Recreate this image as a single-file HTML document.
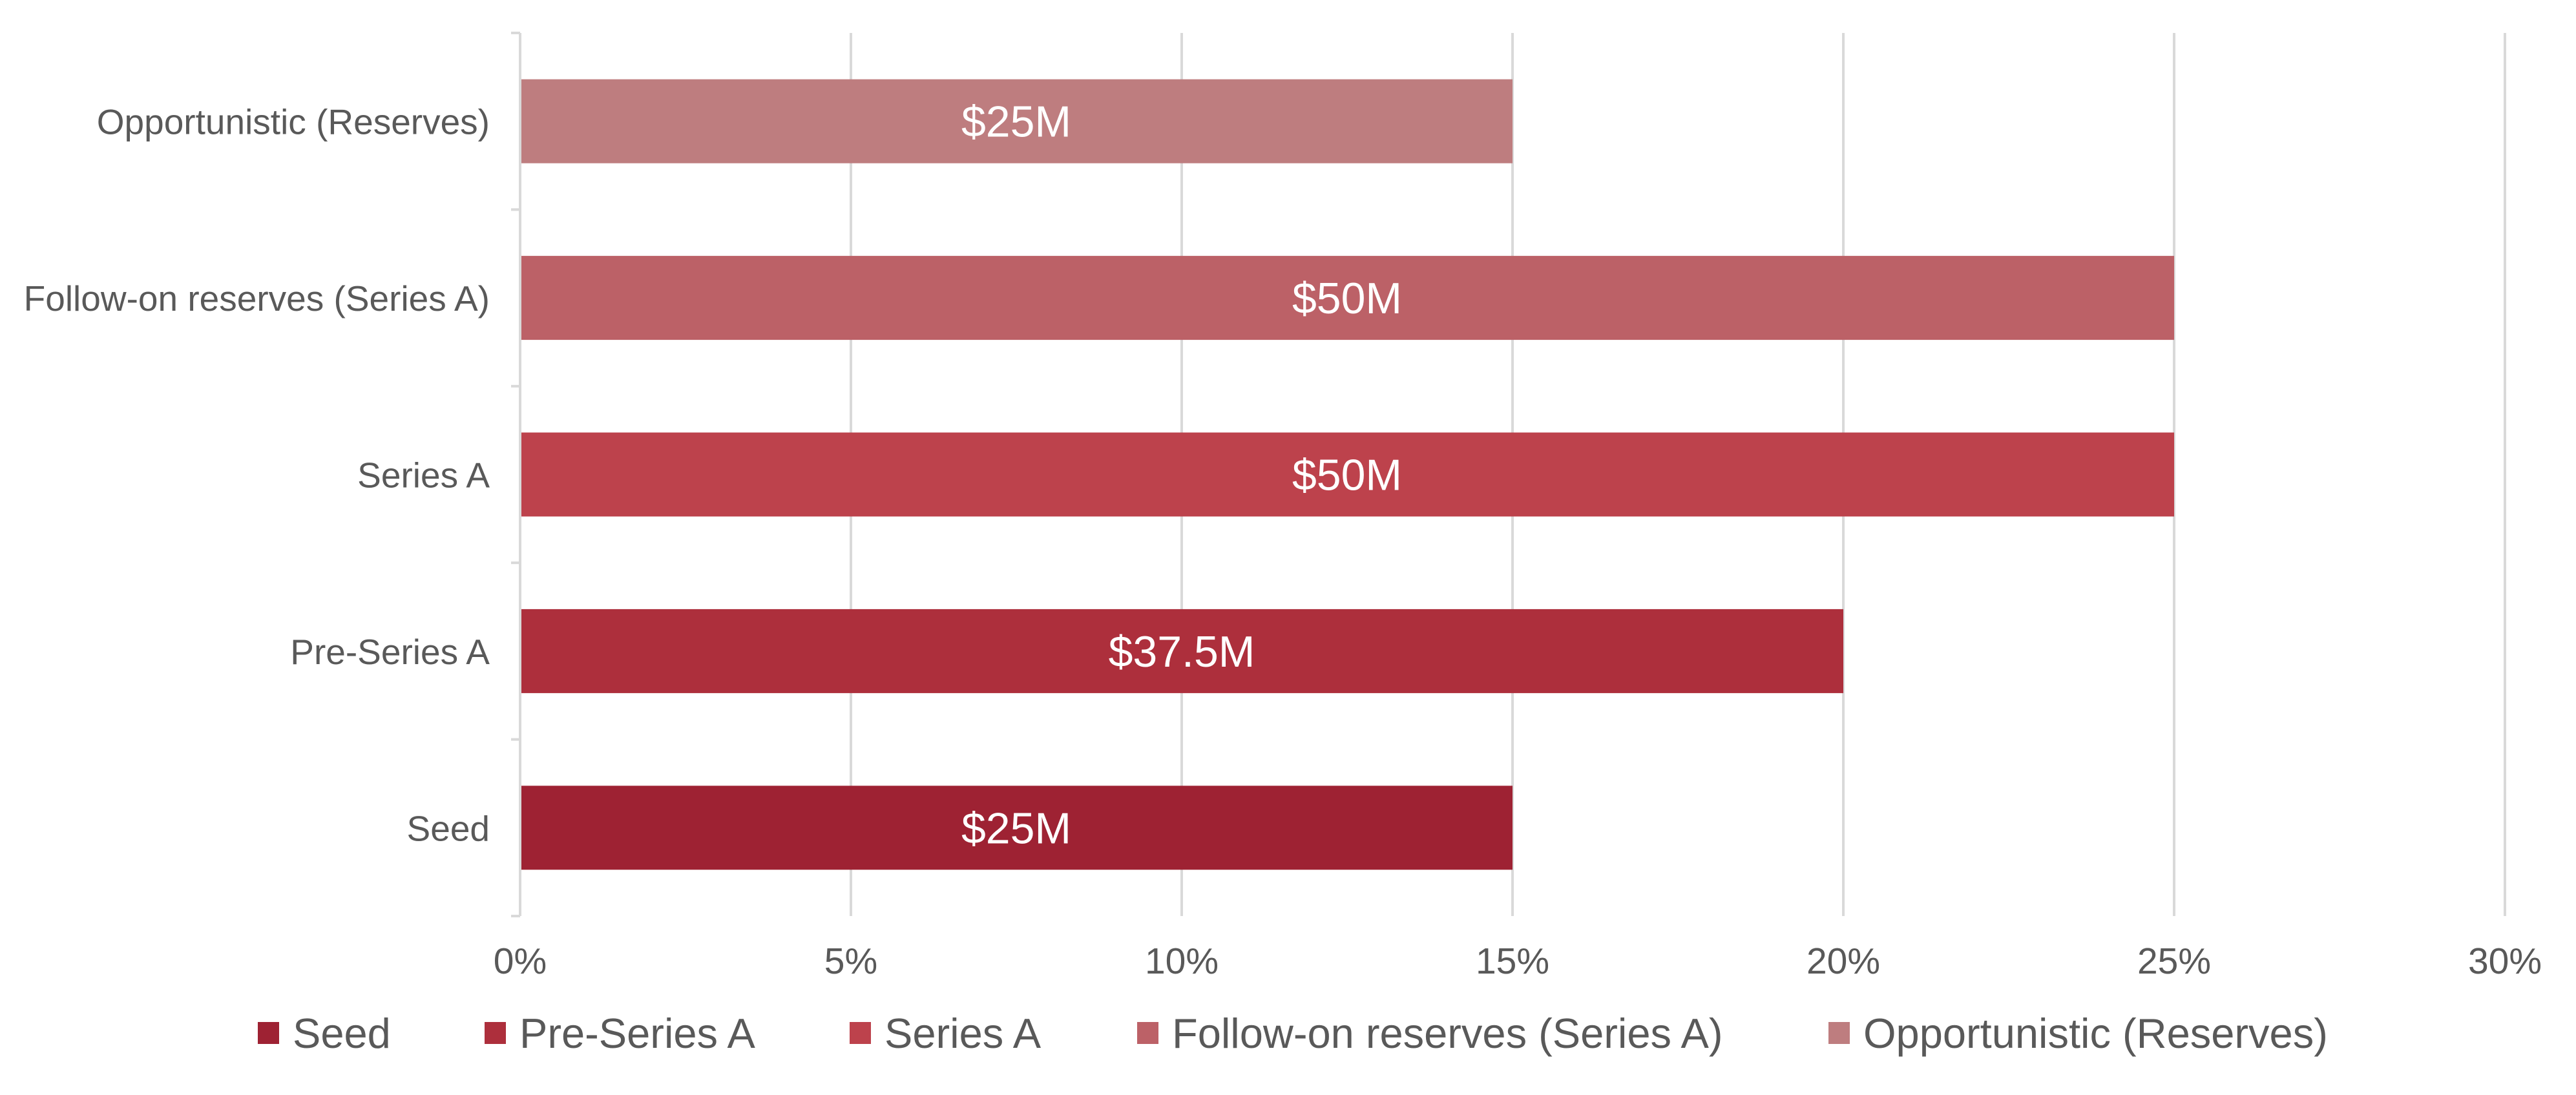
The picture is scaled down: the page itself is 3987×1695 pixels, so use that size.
<!DOCTYPE html>
<html><head><meta charset="utf-8"><style>
html,body{margin:0;padding:0;background:#fff;}
svg{display:block;}
text{font-family:"Liberation Sans",sans-serif;}
</style></head><body>
<svg id="chart" width="3987" height="1695" viewBox="0 0 3987 1695" xmlns="http://www.w3.org/2000/svg">
<g id="grid"></g>
<g id="bars"></g>
<g id="yaxis"></g>
<g id="xaxis"></g>
<g id="legend"></g>
</svg>
<script>
const categories = ["Seed","Pre-Series A","Series A","Follow-on reserves (Series A)","Opportunistic (Reserves)"];
const values = [15,20,25,25,15];
const valueLabels = ["$25M","$37.5M","$50M","$50M","$25M"];
const colors = ["#9E2233","#AD2F3C","#BD424C","#BC6167","#BE7D7F"];
const xTicks = [0,5,10,15,20,25,30];
const xTickLabels = ["0%","5%","10%","15%","20%","25%","30%"];
const legendX = [399,750,1315,1760,2830];

const NS="http://www.w3.org/2000/svg";
const X0=805, X1=3877, XMAX=30, YTOP=51, YBOT=1418;
const band=(YBOT-YTOP)/categories.length;
function xs(v){return X0+(X1-X0)*v/XMAX;}
function yc(i){return YBOT-band*(i+0.5);}
function mk(tag,attrs,parent,txt){const e=document.createElementNS(NS,tag);for(const k in attrs)e.setAttribute(k,attrs[k]);if(txt!==undefined)e.textContent=txt;parent.appendChild(e);return e;}
const grid=document.getElementById('grid'),bars=document.getElementById('bars'),ya=document.getElementById('yaxis'),xa=document.getElementById('xaxis'),lg=document.getElementById('legend');

xTicks.forEach((t,i)=>{
  if(t>0){const l=mk('line',{x1:xs(t),x2:xs(t),y1:YTOP,y2:YBOT,stroke:'#d9d9d9','stroke-width':4},grid);
  
  }
  const tx=mk('text',{x:xs(t),y:1507,'font-size':57,fill:'#595959','text-anchor':'middle'},xa,xTickLabels[i]);
  
  
});
const ax=mk('line',{x1:X0,x2:X0,y1:YTOP,y2:YBOT,stroke:'#d9d9d9','stroke-width':4},ya);


for(let i=0;i<=categories.length;i++){
  const y=YBOT-band*i;
  const tk=mk('line',{x1:X0-14,x2:X0,y1:y,y2:y,stroke:'#d9d9d9','stroke-width':4},ya);
  
  
}
const bh=130;
categories.forEach((c,i)=>{
  const r=mk('rect',{x:X0+2,y:yc(i)-bh/2,width:xs(values[i])-X0-2,height:bh,fill:colors[i]},bars);
  
  
  const vl=mk('text',{x:(X0+xs(values[i]))/2,y:yc(i)+24,'font-size':68,fill:'#fff','text-anchor':'middle'},bars,valueLabels[i]);
  
  
  const cl=mk('text',{x:758,y:yc(i)+20,'font-size':55,fill:'#595959','text-anchor':'end'},ya,c);
  
  
  const sq=mk('rect',{x:legendX[i],y:1582,width:33,height:34,fill:colors[i]},lg);
  
  
  const lt=mk('text',{x:legendX[i]+54,y:1622,'font-size':65,fill:'#595959'},lg,c);
  
  
});
</script>
</body></html>
